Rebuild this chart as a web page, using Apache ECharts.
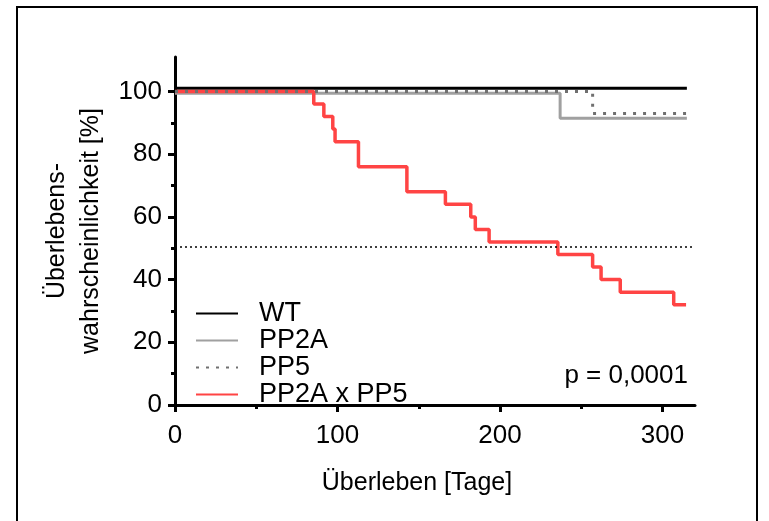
<!DOCTYPE html>
<html>
<head>
<meta charset="utf-8">
<script src="https://cdn.jsdelivr.net/npm/echarts@6/dist/echarts.min.js"></script>
<style>
  html, body { margin: 0; padding: 0; background: #fff; }
  #chart { width: 769px; height: 521px; }
</style>
</head>
<body>
<div id="chart"></div>
<script>
// Kaplan-Meier Daten (Tage, Überlebenswahrscheinlichkeit %)
var wtDays = [0, 315];
var wtSurv = [101, 101];
var pp2aDays = [0, 237, 315];
var pp2aSurv = [99.4, 91.5, 91.5];
var pp5Days = [0, 257, 315];
var pp5Surv = [100, 93, 93];
var dkDays = [0, 85.4, 91.6, 97.1, 98.5, 112.9, 142.7, 166.4, 182, 184.8, 193.3, 235.6, 257, 262.2, 274, 306.9, 314.5];
var dkSurv = [100, 96, 92, 88, 84, 76, 68, 64, 60, 56, 52, 48, 44, 40, 36, 32, 32];
var medianLine = 50.6;
var pValue = 'p = 0,0001';

var xMajorTicks = [0, 100, 200, 300];
var xMinorTicks = [50, 150, 250];
var yMajorTicks = [0, 20, 40, 60, 80, 100];
var yMinorTicks = [10, 30, 50, 70, 90];

var font = 'Liberation Sans, Arial, sans-serif';

function pairs(days, surv) {
    var out = [];
    for (var i = 0; i < days.length; i++) {
        out.push([days[i], surv[i]]);
    }
    return out;
}

var dom = echarts.init(document.getElementById('chart'));

var axisLine = { show: true, lineStyle: { color: '#000', width: 3 } };

var option = {
    backgroundColor: '#fff',
    animation: false,
    grid: { left: 175, right: 74, top: 57, bottom: 116 },
    legend: {
        orient: 'vertical',
        left: 190,
        top: 295,
        itemWidth: 42,
        itemHeight: 10,
        itemGap: 0,
        itemStyle: { opacity: 0 },
        textStyle: { fontFamily: font, fontSize: 27, color: '#000', lineHeight: 25, padding: [0, 0, 0, 16] },
        data: ['WT', 'PP2A', 'PP5', 'PP2A x PP5']
    },
    xAxis: [{
        type: 'value',
        min: 0,
        max: 320,
        name: 'Überleben [Tage]',
        nameLocation: 'middle',
        nameGap: 66,
        nameTextStyle: { fontFamily: font, fontSize: 25, color: '#000', padding: [0, 36, 0, 0] },
        axisLine: axisLine,
        axisTick: { show: true, length: 7, lineStyle: { color: '#000', width: 3 }, customValues: xMajorTicks },
        axisLabel: { fontFamily: font, fontSize: 26, color: '#000', margin: 18, customValues: xMajorTicks },
        splitLine: { show: false }
    }, {
        type: 'value',
        position: 'bottom',
        min: 0,
        max: 320,
        axisLine: { show: false },
        axisTick: { show: true, length: 4, lineStyle: { color: '#000', width: 3 }, customValues: xMinorTicks },
        axisLabel: { show: false },
        splitLine: { show: false }
    }],
    yAxis: [{
        type: 'value',
        min: 0,
        max: 111,
        name: 'Überlebens-\nwahrscheinlichkeit [%]',
        nameLocation: 'middle',
        nameRotate: 90,
        nameGap: 66,
        nameTextStyle: { fontFamily: font, fontSize: 25, color: '#000', lineHeight: 34 },
        axisLine: axisLine,
        axisTick: { show: true, length: 7, lineStyle: { color: '#000', width: 3 }, customValues: yMajorTicks },
        axisLabel: { fontFamily: font, fontSize: 26, color: '#000', margin: 13, customValues: yMajorTicks },
        splitLine: { show: false }
    }, {
        type: 'value',
        position: 'left',
        min: 0,
        max: 111,
        axisLine: { show: false },
        axisTick: { show: true, length: 4, lineStyle: { color: '#000', width: 3 }, customValues: yMinorTicks },
        axisLabel: { show: false },
        splitLine: { show: false }
    }],
    graphic: [{
        type: 'rect',
        shape: { x: 17, y: 7, width: 740, height: 540 },
        style: { fill: 'none', stroke: '#000', lineWidth: 2 },
        silent: true
    }, {
        type: 'text',
        x: 688,
        y: 376,
        style: { text: pValue, fontFamily: font, fontSize: 26, fill: '#000', align: 'right', verticalAlign: 'middle' }
    }],
    series: [{
        name: 'PP2A',
        type: 'line',
        step: 'end',
        symbol: 'none',
        color: '#a0a0a0',
        lineStyle: { color: '#a0a0a0', width: 3 },
        data: pairs(pp2aDays, pp2aSurv),
        z: 2
    }, {
        name: 'WT',
        type: 'line',
        step: 'end',
        symbol: 'none',
        color: '#000',
        lineStyle: { color: '#000', width: 3 },
        data: pairs(wtDays, wtSurv),
        z: 3
    }, {
        name: 'PP2A x PP5',
        type: 'line',
        step: 'end',
        symbol: 'none',
        color: '#ff4444',
        lineStyle: { color: '#ff4444', width: 3.5 },
        data: pairs(dkDays, dkSurv),
        markLine: {
            silent: true,
            symbol: 'none',
            label: { show: false },
            lineStyle: { color: '#000', type: [2, 3], width: 1.5 },
            data: [{ yAxis: medianLine }]
        },
        z: 4
    }, {
        name: 'PP5',
        type: 'line',
        step: 'end',
        symbol: 'none',
        color: '#707070',
        lineStyle: { color: '#707070', width: 3, type: [3, 7] },
        data: pairs(pp5Days, pp5Surv),
        z: 5
    }]
};

dom.setOption(option);
</script>
</body>
</html>
